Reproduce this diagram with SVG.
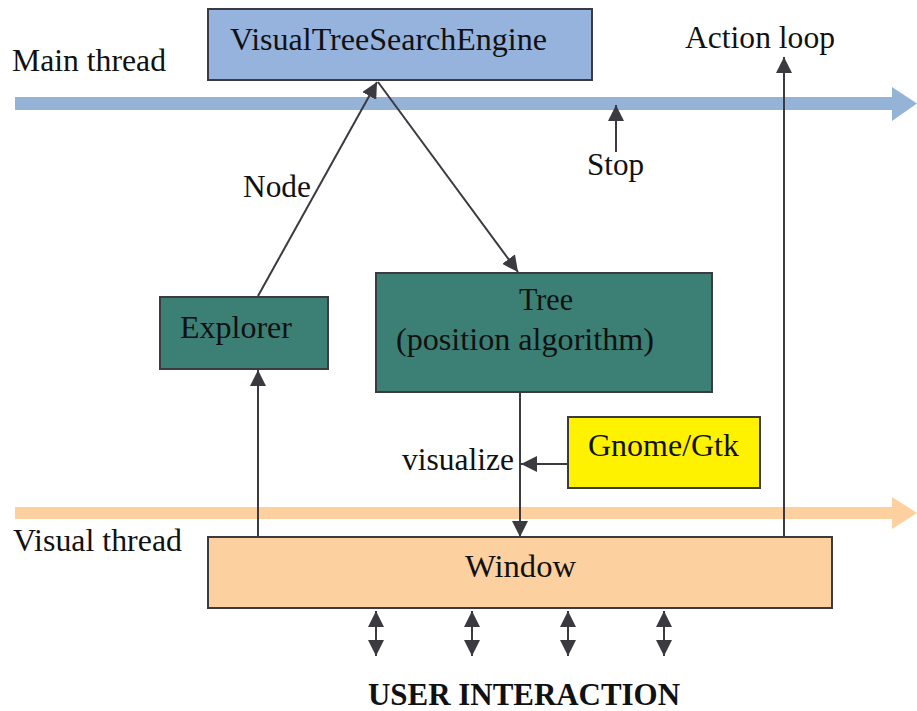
<svg xmlns="http://www.w3.org/2000/svg" width="917" height="711" viewBox="0 0 917 711">
  <style>
    text { font-family: "Liberation Serif", "Times New Roman", serif; font-size: 31px; fill: #111; }
    .box { stroke: #3a3a40; stroke-width: 2; }
    .conn { stroke: #3a3a40; stroke-width: 2; fill: none; }
    .bold { font-weight: bold; }
  </style>
  <defs>
    <marker id="ahl" viewBox="0 0 10 10" refX="10" refY="5" markerWidth="16" markerHeight="16" markerUnits="userSpaceOnUse" orient="auto-start-reverse">
      <path d="M0,0 L10,5 L0,10 z" fill="#3a3a40"/>
    </marker>
  </defs>

  <!-- thread timelines -->
  <g id="main-thread">
    <rect x="15" y="97" width="878" height="13" fill="#95b3d7"/>
    <path d="M892,87 L917,103.5 L892,121 z" fill="#95b3d7"/>
    <text x="12" y="71" textLength="154" lengthAdjust="spacingAndGlyphs">Main thread</text>
  </g>
  <g id="visual-thread">
    <rect x="15" y="507" width="878" height="12" fill="#fdd09f"/>
    <path d="M892,497 L917,513 L892,529 z" fill="#fdd09f"/>
    <text x="13" y="551" textLength="169" lengthAdjust="spacingAndGlyphs">Visual thread</text>
  </g>

  <!-- connectors -->
  <g id="connectors">
    <line class="conn" x1="258" y1="296" x2="377" y2="82" marker-end="url(#ahl)"/>
    <line class="conn" x1="378" y1="82" x2="518" y2="272" marker-end="url(#ahl)"/>
    <line class="conn" x1="258" y1="537" x2="258" y2="370" marker-end="url(#ahl)"/>
    <line class="conn" x1="520" y1="393" x2="520" y2="537" marker-end="url(#ahl)"/>
    <line class="conn" x1="568" y1="464" x2="521" y2="464" marker-end="url(#ahl)"/>
    <line class="conn" x1="784" y1="537" x2="784" y2="57" marker-end="url(#ahl)"/>
    <line class="conn" x1="616" y1="152" x2="616" y2="105" marker-end="url(#ahl)"/>
    <line class="conn" x1="376" y1="611" x2="376" y2="656" marker-start="url(#ahl)" marker-end="url(#ahl)"/>
    <line class="conn" x1="472" y1="611" x2="472" y2="656" marker-start="url(#ahl)" marker-end="url(#ahl)"/>
    <line class="conn" x1="568" y1="611" x2="568" y2="656" marker-start="url(#ahl)" marker-end="url(#ahl)"/>
    <line class="conn" x1="664" y1="611" x2="664" y2="656" marker-start="url(#ahl)" marker-end="url(#ahl)"/>
  </g>

  <!-- connector labels -->
  <g id="labels">
    <text x="243" y="197" textLength="68" lengthAdjust="spacingAndGlyphs">Node</text>
    <text x="587" y="175" textLength="57" lengthAdjust="spacingAndGlyphs">Stop</text>
    <text x="685" y="48" textLength="150" lengthAdjust="spacingAndGlyphs">Action loop</text>
    <text x="402" y="470" textLength="112" lengthAdjust="spacingAndGlyphs">visualize</text>
    <text x="368" y="705" class="bold" textLength="312" lengthAdjust="spacingAndGlyphs">USER INTERACTION</text>
  </g>

  <!-- nodes -->
  <g id="engine">
    <rect class="box" x="208" y="9" width="384" height="71" fill="#95b3dd"/>
    <text x="230" y="50" textLength="317" lengthAdjust="spacingAndGlyphs">VisualTreeSearchEngine</text>
  </g>
  <g id="explorer">
    <rect class="box" x="160" y="297" width="168" height="72" fill="#3b7f75"/>
    <text x="180" y="338" textLength="112" lengthAdjust="spacingAndGlyphs">Explorer</text>
  </g>
  <g id="tree">
    <rect class="box" x="376" y="273" width="336" height="119" fill="#3b7f75"/>
    <text x="519" y="310" textLength="54" lengthAdjust="spacingAndGlyphs">Tree</text>
    <text x="396" y="350" textLength="258" lengthAdjust="spacingAndGlyphs">(position algorithm)</text>
  </g>
  <g id="gnome-gtk">
    <rect class="box" x="568" y="417" width="192" height="71" fill="#fff200"/>
    <text x="588" y="456" textLength="151" lengthAdjust="spacingAndGlyphs">Gnome/Gtk</text>
  </g>
  <g id="window">
    <rect class="box" x="208" y="537" width="624" height="71" fill="#fdd09f"/>
    <text x="465" y="577" textLength="111" lengthAdjust="spacingAndGlyphs">Window</text>
  </g>
</svg>
